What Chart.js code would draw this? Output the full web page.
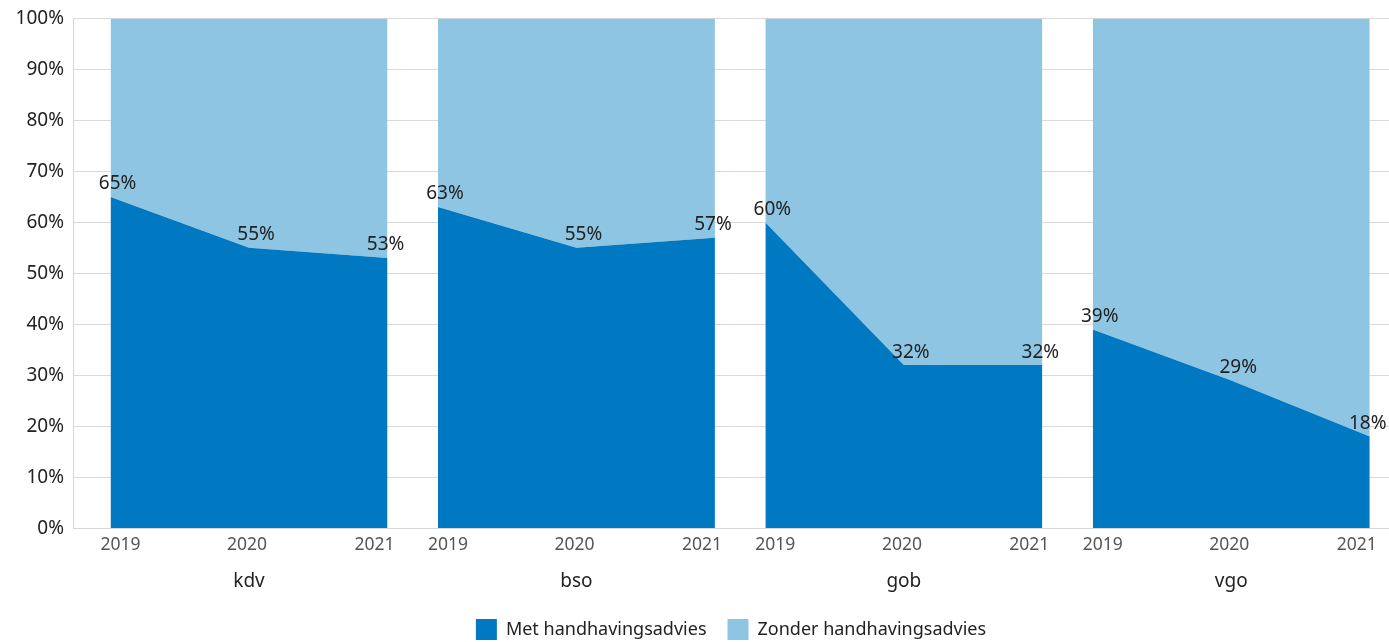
<!DOCTYPE html>
<html><head><meta charset="utf-8">
<script src="https://cdn.jsdelivr.net/npm/chart.js@4"></script>
<style>html,body{margin:0;padding:0;background:#fff}#wrap{width:1389px;height:642px;position:relative}</style>
</head><body><div id="wrap"><canvas id="c"></canvas></div>
<script>
// ---- data ----
const groups = ['kdv', 'bso', 'gob', 'vgo'];
const years = ['2019', '2020', '2021'];
const seriesNames = ['Met handhavingsadvies', 'Zonder handhavingsadvies'];
const metKdv = [65, 55, 53];
const metBso = [63, 55, 57];
const metGob = [60, 32, 32];
const metVgo = [39, 29, 18];
const zonderKdv = [35, 45, 47];
const zonderBso = [37, 45, 43];
const zonderGob = [40, 68, 68];
const zonderVgo = [61, 71, 82];
const yTickValues = [0, 10, 20, 30, 40, 50, 60, 70, 80, 90, 100];

// ---- layout constants ----
const GROUP_STEP = 2.364;
const X_MIN = -0.271, X_MAX = 9.231;
const DARK = '#0079c2', LIGHT = '#8dc5e2';
const FONT = '"Noto Sans", "Open Sans", sans-serif';
const YEAR_TICK_SHIFT = [0.072, -0.014, -0.094];

const metSets = [metKdv, metBso, metGob, metVgo];
const zonderSets = [zonderKdv, zonderBso, zonderGob, zonderVgo];
const xOf = (g, i) => g * GROUP_STEP + i;

const datasets = [];
groups.forEach((g, gi) => {
  datasets.push({
    label: seriesNames[0], group: g,
    data: metSets[gi].map((v, i) => ({x: xOf(gi, i), y: v})),
    backgroundColor: DARK, borderColor: DARK, borderWidth: 0,
    pointRadius: 0, tension: 0, fill: 'origin', isMet: true
  });
  datasets.push({
    label: seriesNames[1], group: g,
    data: zonderSets[gi].map((v, i) => ({x: xOf(gi, i), y: v})),
    backgroundColor: LIGHT, borderColor: LIGHT, borderWidth: 0,
    pointRadius: 0, tension: 0, fill: '-1'
  });
});

const labelPlugin = {
  id: 'pctLabels',
  afterLayout(chart) {
    // centre the legend under the plot area
    if (chart.legend) chart.legend.left = chart.chartArea.left;
  },
  afterDatasetsDraw(chart) {
    const ctx = chart.ctx;
    ctx.save();
    ctx.font = '19px ' + FONT;
    ctx.fillStyle = '#222';
    ctx.textAlign = 'center';
    ctx.textBaseline = 'middle';
    chart.data.datasets.forEach((ds, di) => {
      if (!ds.isMet) return;
      const meta = chart.getDatasetMeta(di);
      meta.data.forEach((pt, i) => {
        const dx = i === 2 ? -2 : 7;
        ctx.fillText(ds.data[i].y + '%', pt.x + dx, pt.y - 13);
      });
    });
    ctx.restore();
  }
};

new Chart(document.getElementById('c'), {
  type: 'line',
  data: {datasets},
  plugins: [labelPlugin],
  options: {
    responsive: true, maintainAspectRatio: false, animation: false,
    layout: {padding: {top: 18, left: 0, right: 0, bottom: -8}},
    plugins: {
      tooltip: {enabled: false},
      legend: {
        position: 'bottom',
        labels: {
          boxWidth: 21, boxHeight: 21, padding: 21, color: '#222',
          font: {size: 18, family: FONT},
          filter: (item) => item.datasetIndex < 2
        }
      }
    },
    scales: {
      x: {
        type: 'linear', min: X_MIN, max: X_MAX,
        grid: {display: false, drawTicks: false},
        border: {display: true, color: '#d6d6d6', width: 1},
        afterBuildTicks(scale) {
          const t = [];
          groups.forEach((g, gi) => years.forEach((y, i) => t.push({value: xOf(gi, i) + YEAR_TICK_SHIFT[i]})));
          scale.ticks = t;
        },
        ticks: {
          autoSkip: false, maxRotation: 0, padding: 6, color: '#555',
          font: {size: 17.5, family: FONT},
          callback: (v, idx) => years[idx % years.length]
        }
      },
      x2: {
        type: 'linear', position: 'bottom', min: X_MIN, max: X_MAX,
        grid: {display: false, drawTicks: false},
        border: {display: false},
        afterBuildTicks(scale) {
          scale.ticks = groups.map((g, gi) => ({value: xOf(gi, 1)}));
        },
        afterFit(scale) { scale.height -= 4; },
        ticks: {
          autoSkip: false, maxRotation: 0, padding: 9, color: '#222',
          font: {size: 19, family: FONT},
          callback: (v, idx) => groups[idx]
        }
      },
      y: {
        stacked: true, min: 0, max: 100,
        afterBuildTicks(scale) { scale.ticks = yTickValues.map(v => ({value: v})); },
        afterFit(scale) { scale.width = 73; },
        grid: {color: '#dadada', lineWidth: 1, drawTicks: false},
        border: {display: true, color: '#d6d6d6', width: 1},
        ticks: {
          padding: 9, color: '#222', font: {size: 19, family: FONT, lineHeight: 1},
          callback: (v) => v + '%'
        }
      }
    }
  }
});
</script>
</body></html>
